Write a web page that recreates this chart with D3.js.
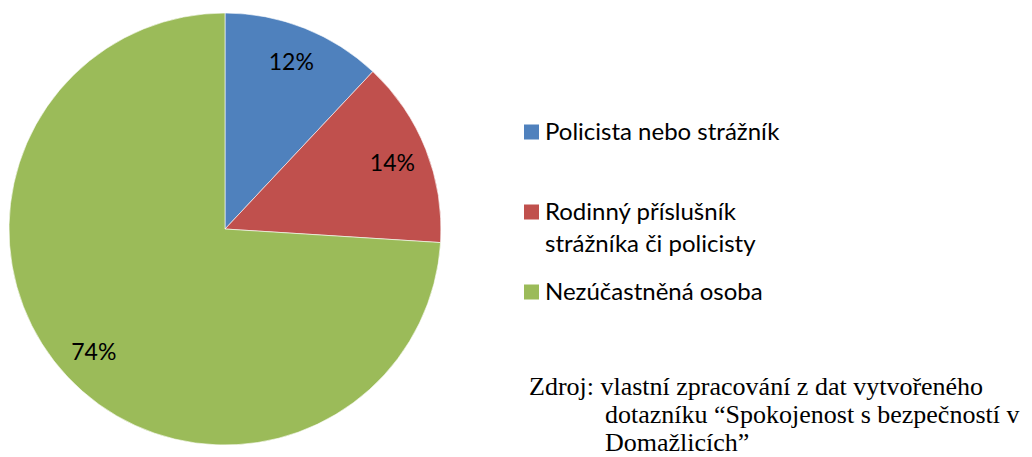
<!DOCTYPE html>
<html>
<head>
<meta charset="utf-8">
<script src="https://cdn.jsdelivr.net/npm/d3@7"></script>
<style>
  html, body { margin: 0; padding: 0; background: #fff; }
  svg { display: block; }
</style>
</head>
<body>
<svg id="chart" width="1032" height="457"></svg>
<script>
// data
const categories = ['Policista nebo strážník', 'Rodinný příslušník strážníka či policisty', 'Nezúčastněná osoba'];
const legendLines = [['Policista nebo strážník'], ['Rodinný příslušník', 'strážníka či policisty'], ['Nezúčastněná osoba']];
const values = [12, 14, 74];
const colors = ['#4F81BD', '#C0504D', '#9BBB59'];
const sourceLines = ['vlastní zpracování z dat vytvořeného', 'dotazníku “Spokojenost s bezpečností v', 'Domažlicích”'];

const svg = d3.select('#chart');
const cx = 225, cy = 229, r = 216;

const pie = d3.pie().sort(null).value(d => d);
const arcs = pie(values);
const arc = d3.arc().innerRadius(0).outerRadius(r);
const labelArc = d3.arc().innerRadius(180).outerRadius(180);

const g = svg.append('g').attr('transform', `translate(${cx},${cy})`);

g.selectAll('path.slice')
  .data(arcs)
  .enter()
  .append('path')
  .attr('class', 'slice')
  .attr('d', arc)
  .attr('fill', (d, i) => colors[i])
  .attr('stroke', '#fff')
  .attr('stroke-width', 0.6);

g.selectAll('text.pct')
  .data(arcs)
  .enter()
  .append('text')
  .attr('class', 'pct')
  .attr('transform', d => `translate(${labelArc.centroid(d)})`)
  .attr('text-anchor', 'middle')
  .attr('dy', '0.35em')
  .attr('font-family', 'Lato, "Open Sans", sans-serif')
  .attr('font-size', 23)
  .attr('fill', '#000')
  .text(d => `${d.data}%`);

// legend
const legendY = [132, 212, 292];
const legend = svg.append('g');
categories.forEach((c, i) => {
  const item = legend.append('g').attr('transform', `translate(524,${legendY[i]})`);
  item.append('rect')
    .attr('x', 0).attr('y', -7.5)
    .attr('width', 15).attr('height', 15)
    .attr('fill', colors[i]);
  const t = item.append('text')
    .attr('y', 8)
    .attr('font-family', 'Lato, "Open Sans", sans-serif')
    .attr('font-size', 24)
    .attr('fill', '#000');
  legendLines[i].forEach((line, j) => {
    t.append('tspan').attr('x', 21).attr('dy', j === 0 ? 0 : 32).text(line);
  });
});

// source note
const src = svg.append('text')
  .attr('font-family', '"Liberation Serif", "Times New Roman", serif')
  .attr('font-size', 26)
  .attr('fill', '#000');
src.append('tspan').attr('x', 529).attr('y', 395).text('Zdroj: ' + sourceLines[0]);
src.append('tspan').attr('x', 605).attr('y', 423).text(sourceLines[1]);
src.append('tspan').attr('x', 605).attr('y', 451).text(sourceLines[2]);
</script>
</body>
</html>
